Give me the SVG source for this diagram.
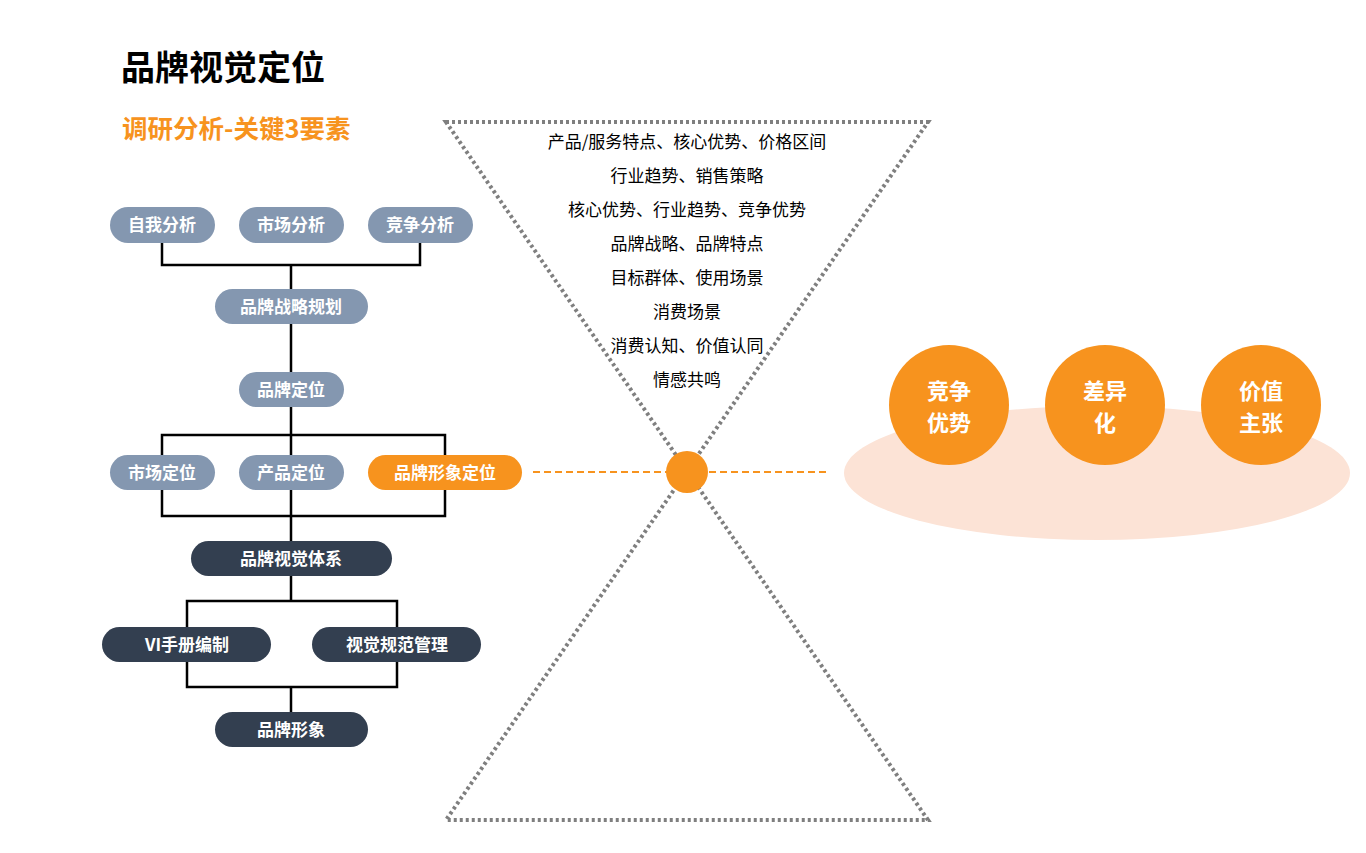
<svg xmlns="http://www.w3.org/2000/svg" width="1366" height="853" viewBox="0 0 1366 853">
<style>
text{font-family:"Noto Sans CJK SC","Liberation Sans",sans-serif}
.g{fill:#8497b0}.d{fill:#333f50}.o{fill:#f7931e}
.nt{fill:#fff;font-size:17px;font-weight:bold;text-anchor:middle}
.ln{fill:none;stroke:#000;stroke-width:2.5}
.ht{font-size:17px;text-anchor:middle;fill:#000}
.ct{fill:#fff;font-size:22px;font-weight:bold;text-anchor:middle}
</style>
<rect width="1366" height="853" fill="#fff"/>
<text x="121" y="80" font-size="34" font-weight="bold">品牌视觉定位</text>
<text x="122" y="138" font-size="25.5" font-weight="bold" fill="#f7931e">调研分析-关键3要素</text>
<g id="connectors">
<path class="ln" d="M162 243V265H420V243M291 265V289M291 324V372M291 407V435M162 455V435H445V455M291 435V455M162 490V516H445V490M291 490V541M291 576V601M187 627V601H397V627M187 662V687H397V662M291 687V712"/>
<line x1="533" y1="472" x2="830" y2="472" stroke="#f7931e" stroke-width="2" stroke-dasharray="7 4"/>
<path d="M446 122H928L446 820H928Z" fill="none" stroke="#7f7f7f" stroke-width="4" stroke-dasharray="3 3"/>
</g>
<g id="n1"><rect class="g" x="110" y="207" width="105" height="36" rx="18"/><text class="nt" x="162" y="231">自我分析</text></g>
<g id="n2"><rect class="g" x="239" y="207" width="105" height="36" rx="18"/><text class="nt" x="291" y="231">市场分析</text></g>
<g id="n3"><rect class="g" x="368" y="207" width="105" height="36" rx="18"/><text class="nt" x="420" y="231">竞争分析</text></g>
<g id="n4"><rect class="g" x="215" y="289" width="153" height="35" rx="17.5"/><text class="nt" x="291" y="313">品牌战略规划</text></g>
<g id="n5"><rect class="g" x="239" y="372" width="105" height="35" rx="17.5"/><text class="nt" x="291" y="396">品牌定位</text></g>
<g id="n6"><rect class="g" x="110" y="455" width="105" height="35" rx="17.5"/><text class="nt" x="162" y="479">市场定位</text></g>
<g id="n7"><rect class="g" x="239" y="455" width="105" height="35" rx="17.5"/><text class="nt" x="291" y="479">产品定位</text></g>
<g id="n8"><rect class="o" x="368" y="455" width="154" height="35" rx="17.5"/><text class="nt" x="445" y="479">品牌形象定位</text></g>
<g id="n9"><rect class="d" x="191" y="541" width="201" height="35" rx="17.5"/><text class="nt" x="291" y="565">品牌视觉体系</text></g>
<g id="n10"><rect class="d" x="102" y="627" width="169" height="35" rx="17.5"/><text class="nt" x="187" y="651">VI手册编制</text></g>
<g id="n11"><rect class="d" x="312" y="627" width="169" height="35" rx="17.5"/><text class="nt" x="397" y="651">视觉规范管理</text></g>
<g id="n12"><rect class="d" x="215" y="712" width="153" height="35" rx="17.5"/><text class="nt" x="291" y="736">品牌形象</text></g>
<g id="hourglass-text">
<text class="ht" x="687" y="148">产品/服务特点、核心优势、价格区间</text>
<text class="ht" x="687" y="182">行业趋势、销售策略</text>
<text class="ht" x="687" y="216">核心优势、行业趋势、竞争优势</text>
<text class="ht" x="687" y="250">品牌战略、品牌特点</text>
<text class="ht" x="687" y="284">目标群体、使用场景</text>
<text class="ht" x="687" y="318">消费场景</text>
<text class="ht" x="687" y="352">消费认知、价值认同</text>
<text class="ht" x="687" y="386">情感共鸣</text>
</g>
<g id="center"><circle cx="687" cy="472" r="21" fill="#f7931e"/></g>
<g id="ellipse"><ellipse cx="1097" cy="473" rx="253" ry="67" fill="#fce3d6"/></g>
<g id="c1"><circle cx="949" cy="405" r="60" fill="#f7931e"/><text class="ct" x="949" y="399">竞争</text><text class="ct" x="949" y="431">优势</text></g>
<g id="c2"><circle cx="1105" cy="405" r="60" fill="#f7931e"/><text class="ct" x="1105" y="399">差异</text><text class="ct" x="1105" y="431">化</text></g>
<g id="c3"><circle cx="1261" cy="405" r="60" fill="#f7931e"/><text class="ct" x="1261" y="399">价值</text><text class="ct" x="1261" y="431">主张</text></g>
</svg>
